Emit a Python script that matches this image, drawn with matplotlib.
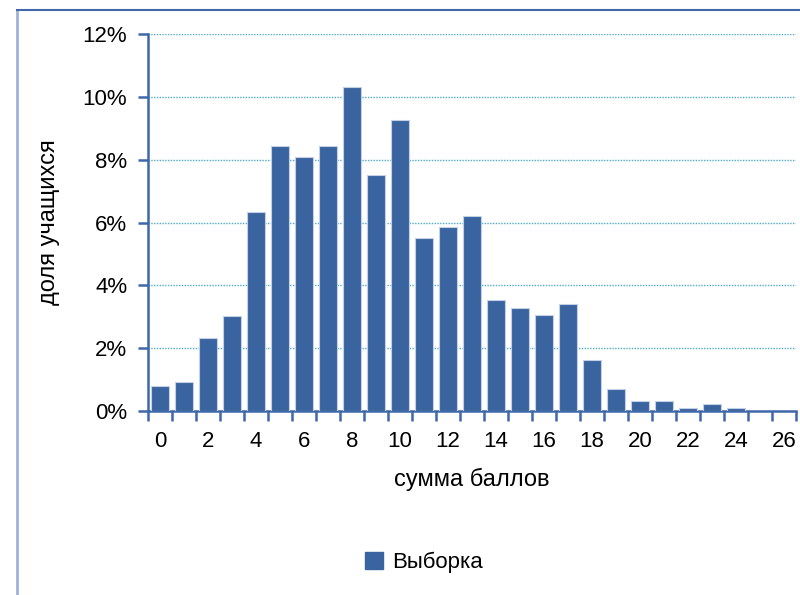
import numpy as np
import matplotlib
matplotlib.use("Agg")
import matplotlib.pyplot as plt
from matplotlib.lines import Line2D
from matplotlib.patches import Patch

plt.rcParams["font.family"] = ["Liberation Sans", "DejaVu Sans"]

scores = list(range(27))
shares = [0.80, 0.93, 2.33, 3.02, 6.32, 8.42, 8.10, 8.44, 10.32, 7.50,
          9.25, 5.52, 5.86, 6.21, 3.52, 3.29, 3.05, 3.41, 1.64, 0.69,
          0.33, 0.33, 0.10, 0.22, 0.10, 0.0, 0.0]
y_ticks = [0, 2, 4, 6, 8, 10, 12]
x_labels = list(range(0, 27, 2))

bar_color = "#3a64a0"
axis_color = "#3f68aa"
grid_color = "#4bacc6"

fig = plt.figure(figsize=(8, 5.95), dpi=100)
ax = fig.add_axes([0.185, 0.309, 0.81, 0.634])

ax.bar(scores, shares, width=0.74, color=bar_color,
       edgecolor="#c3d0e6", linewidth=0.8, zorder=3, label="Выборка")

ax.set_xlim(-0.5, 26.5)
ax.set_ylim(0, 12)
ax.set_yticks(y_ticks)
ax.set_yticklabels([f"{v}%" for v in y_ticks])
ax.set_xticks(x_labels)
ax.set_xticks(np.arange(-0.5, 27, 1), minor=True)

ax.grid(axis="y", color=grid_color, linestyle=(0, (1, 1)), linewidth=1.0, zorder=1)

for side in ["top", "right"]:
    ax.spines[side].set_visible(False)
for side in ["left", "bottom"]:
    ax.spines[side].set_color(axis_color)
    ax.spines[side].set_linewidth(1.8)

ax.tick_params(axis="y", direction="out", length=7, width=1.8, color=axis_color,
               labelsize=16, pad=8)
ax.tick_params(axis="x", which="major", length=0, labelsize=16, pad=14)
ax.tick_params(axis="x", which="minor", direction="out", length=7, width=1.8,
               color=axis_color)

ax.set_ylabel("доля учащихся", fontsize=17, labelpad=16)
ax.set_xlabel("сумма баллов", fontsize=17, labelpad=12)

handles = [Patch(facecolor=bar_color, edgecolor=bar_color, label="Выборка")]
fig.legend(handles=handles, loc="center", bbox_to_anchor=(0.53, 0.055),
           frameon=False, fontsize=16, handlelength=0.8, handleheight=0.8,
           handletextpad=0.4)

# outer frame of the chart area
fig.add_artist(Line2D([17 / 800, 17 / 800], [0, 1 - 10 / 595],
                      transform=fig.transFigure, color="#9fb3d8", linewidth=2))
fig.add_artist(Line2D([17 / 800, 1], [1 - 10 / 595, 1 - 10 / 595],
                      transform=fig.transFigure, color="#3f68aa", linewidth=1.5))

fig.savefig("out.png", dpi=100)
